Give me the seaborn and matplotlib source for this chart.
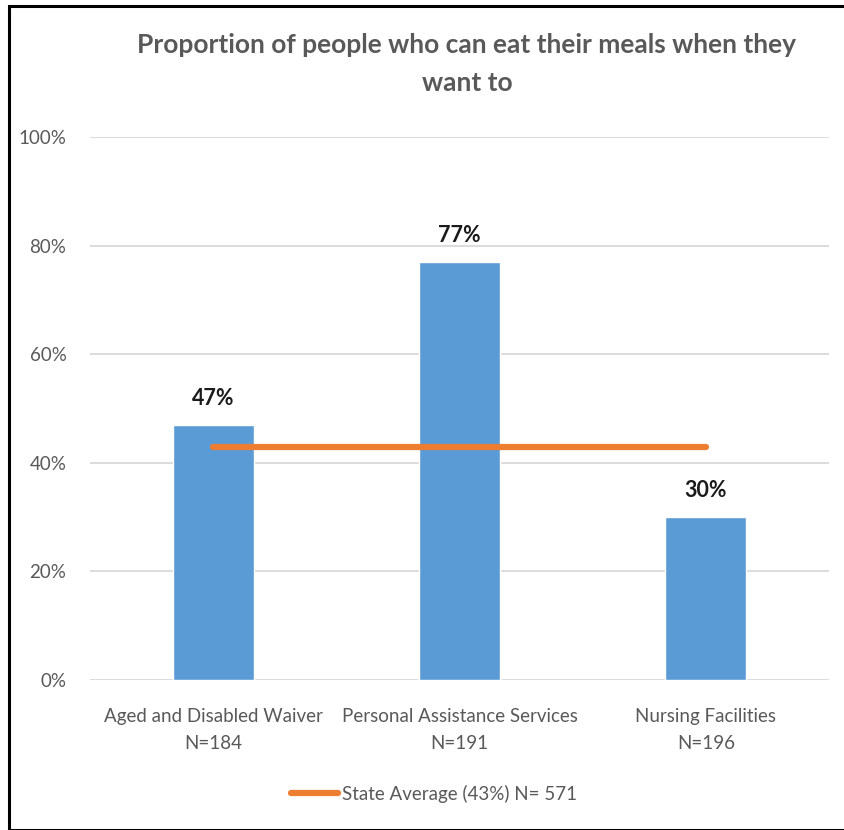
import matplotlib
matplotlib.use("Agg")
import matplotlib.pyplot as plt
import seaborn as sns
import pandas as pd
from matplotlib.patches import Rectangle
from matplotlib.lines import Line2D

programs = ["Aged and Disabled Waiver", "Personal Assistance Services", "Nursing Facilities"]
sample_sizes = [184, 191, 196]
percent_yes = [47, 77, 30]
state_average = 43
state_n = 571
y_ticks = [0, 20, 40, 60, 80, 100]

sns.set_theme(style="white")
plt.rcParams["font.family"] = ["Lato", "DejaVu Sans"]

labels = [f"{p}\nN={n}" for p, n in zip(programs, sample_sizes)]
df = pd.DataFrame({"label": labels, "value": percent_yes})

fig = plt.figure(figsize=(8.45, 8.30), dpi=100)
ax = fig.add_axes([90 / 845, 1 - 680 / 830, 739 / 845, 543 / 830])

sns.barplot(data=df, x="label", y="value", color="#5B9BD5", width=0.33,
            saturation=1, ax=ax, zorder=3)

ax.set_ylim(0, 100)
ax.set_xlim(-0.5, 2.5)
ax.set_yticks(y_ticks)
ax.set_yticklabels([f"{t}%" for t in y_ticks])
ax.grid(axis="y", color="#D9D9D9", linewidth=1.3, zorder=0)
ax.set_axisbelow(True)
for s in ax.spines.values():
    s.set_visible(False)
ax.tick_params(axis="y", length=0, pad=17, labelsize=13.5, labelcolor="#595959")
ax.tick_params(axis="x", length=0, pad=20, labelsize=13.5, labelcolor="#595959")
for t in ax.get_xticklabels():
    t.set_linespacing(1.75)
ax.set_xlabel("")
ax.set_ylabel("")

for i, v in enumerate(percent_yes):
    ax.text(i, v + 3, f"{v}%", ha="center", va="bottom", fontsize=15.5,
            fontweight="bold", color="#1a1a1a")

ax.plot([0, len(programs) - 1], [state_average, state_average], color="#ED7D31",
        linewidth=4.5, solid_capstyle="round", zorder=4)

handle = Line2D([], [], color="#ED7D31", linewidth=4.5, solid_capstyle="round")
fig.legend([handle], [f"State Average ({state_average}%) N= {state_n}"],
           loc="center", bbox_to_anchor=(434 / 845, 1 - 794 / 830), frameon=False,
           fontsize=13.5, labelcolor="#595959", handlelength=2.5, handletextpad=0.2)

fig.text(467 / 845, 1 - 45 / 830, "Proportion of people who can eat their meals when they",
         ha="center", va="center", fontsize=19, fontweight="bold", color="#595959")
fig.text(467 / 845, 1 - 83 / 830, "want to",
         ha="center", va="center", fontsize=19, fontweight="bold", color="#595959")

fig.patches.append(Rectangle((9 / 845, 0), 1, 1 - 6 / 830, transform=fig.transFigure,
                             fill=False, edgecolor="black", linewidth=2.2))

fig.savefig("out.png", dpi=100)
